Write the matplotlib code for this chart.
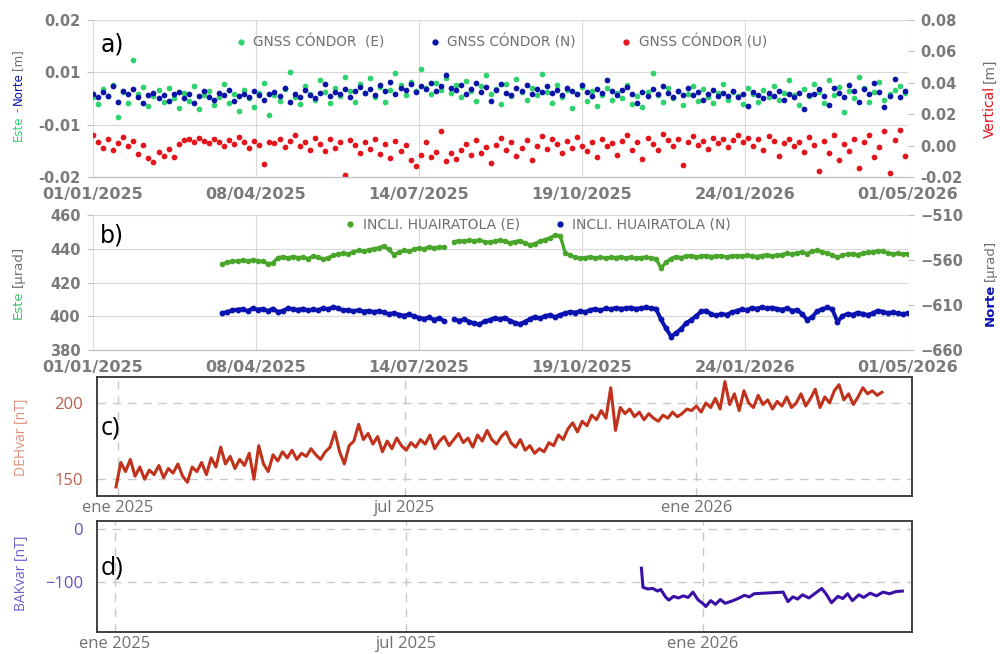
import numpy as np
import pandas as pd
import matplotlib
matplotlib.use('Agg')
import matplotlib.pyplot as plt
import matplotlib.dates as mdates
from matplotlib.lines import Line2D
from matplotlib.ticker import FormatStrFormatter

## Datos
# a) GNSS CONDOR, cada 3 dias desde 01/01/2025, en mm
gnss_e = [0.2, -1.0, 1.8, 0.5, 2.6, -3.5, 1.2, -0.8, 7.4, 0.9, 2.2, -1.5, 0.4, 1.6, -0.6, 2.0, 0.1, -1.9,
          1.0, -0.4, 2.3, -2.0, 0.6, 1.4, -1.2, 0.3, 2.7, -0.9, 0.8, -2.4, 1.7, 0.0, -1.6, 1.1, 2.9, -3.2,
          0.7, -0.5, 1.9, 5.0, 0.2, -1.1, 2.4, 0.9, -0.3, 3.6, 1.2, -0.8, 2.0, 0.4, 4.2, 1.5, -0.6, 2.8,
          1.1, 3.9, 0.3, 2.2, -0.7, 1.6, 4.8, 2.5, 0.6, 3.2, 1.4, 5.6, 2.0, 0.8, 2.9, 1.7, 4.0, 1.0,
          2.6, 0.2, 3.4, 1.5, -0.4, 2.3, 4.5, 0.9, 1.8, -1.0, 2.7, 0.5, 3.8, 1.3, -0.2, 2.1, 0.7, 4.6,
          1.2, -0.9, 2.5, 0.3, 1.7, -1.8, 0.8, 2.2, -0.5, 1.4, -1.4, 0.6, 2.0, -0.3, 1.1, 0.1, 2.6, -1.0,
          0.4, -1.7, 1.3, 4.9, 0.7, -0.6, 2.1, 0.0, 1.5, -1.2, 0.9, 2.4, -0.4, 1.8, 0.3, -0.9, 1.0, 2.7,
          -0.2, 1.2, 0.5, -1.0, 2.0, 0.8, -0.7, 1.6, 0.2, 2.3, -0.3, 1.1, 3.5, 0.6, -1.3, 1.9, 0.4, 2.8,
          1.3, -0.8, 3.6, 0.7, 2.2, -2.5, 1.5, 0.1, 4.2, 2.0, -0.6, 1.2, 3.1, -0.2, 0.9, 1.7, 2.4, 1.0]
gnss_n = [0.8, 0.3, 1.2, 0.5, 2.4, -0.6, 1.5, 0.9, 1.8, 0.2, -0.8, 0.6, 1.1, 0.0, 0.7, -0.4, 0.9, 1.3,
          0.1, 0.8, -0.9, 0.5, 1.4, 0.3, -0.2, 1.0, 0.6, 1.7, -0.5, 0.4, 0.9, 0.2, 1.5, 0.7, -0.3, 0.8,
          1.2, 0.4, 2.0, -0.6, 0.9, 0.3, 1.6, 0.6, 0.1, 1.1, 2.8, 0.5, 1.3, 0.8, 1.9, 0.2, 1.4, 2.2,
          1.0, 1.8, 0.6, 2.5, 1.4, 3.2, 0.9, 2.1, 1.6, 2.7, 1.2, 2.3, 1.8, 3.0, 1.5, 2.4, 4.5, 2.0,
          1.7, 2.6, 0.8, 1.9, 2.9, 1.3, 2.2, -0.5, 1.6, 2.8, 1.1, 0.7, 2.0, 1.4, 2.5, 0.9, 1.8, 1.2,
          2.3, 1.0, 1.7, 0.6, 2.1, 1.5, 0.8, 2.6, 1.2, 0.4, 1.9, 1.0, 3.5, 1.4, 0.7, 1.6, 2.2, 0.9,
          -0.8, 1.3, 0.5, 1.8, 0.9, 2.4, 1.1, 0.3, 1.5, 0.7, 2.0, 0.6, 1.2, -0.2, 0.9, 1.6, 0.4, 1.1,
          0.5, 1.4, 0.2, 0.9, -1.5, 1.2, 0.6, 0.0, 1.0, 0.4, 1.5, -0.3, 0.8, 0.3, 1.1, -2.0, 0.6, 0.9,
          1.8, 0.4, -1.2, 2.1, 1.0, 0.3, 2.6, 1.5, -0.6, 1.9, 0.8, 3.0, 1.2, -1.6, 0.5, 3.8, 0.2, 1.4]
gnss_u = [6.5, 2.0, -1.5, 4.0, -3.0, 1.5, 5.5, -0.5, 3.0, -5.5, 0.5, -8.0, -10.5, -4.0, -6.5, -2.0, -7.5, 1.0,
          3.5, 4.5, 2.0, 5.0, 3.0, 1.5, 4.0, 2.5, -0.5, 3.5, 1.0, 5.5, 2.0, -1.5, 3.0, 0.5, -12.0, 2.5,
          1.5, 4.0, -1.0, 3.0, 6.5, 0.0, 2.5, -2.5, 5.0, 1.0, -3.5, 4.0, -1.5, 2.0, -19.0, 3.5, 0.5, -4.5,
          2.5, -2.0, 4.0, -5.5, 1.0, -8.0, 3.0, -3.5, 0.5, -9.0, -13.0, -6.0, 2.0, -7.0, -4.0, 9.5, -10.0, -5.0,
          -8.5, -2.5, 1.0, -6.0, 3.5, -4.5, -1.0, -11.0, 0.5, 5.0, -3.0, 2.0, -6.5, -1.5, 3.5, -9.0, 0.0, 6.0,
          -2.0, 4.5, 1.0, -5.0, 3.0, -1.5, 5.5, 0.0, -3.5, 2.5, -7.0, 4.0, -0.5, 1.5, -6.0, 3.0, 6.5, -2.5,
          2.0, -8.5, 5.0, 1.0, -3.0, 7.5, 3.5, -0.5, 4.5, -12.5, 2.0, 6.0, 0.5, 3.0, -2.0, 5.0, 1.5, 4.0,
          -1.0, 3.5, 7.0, 2.0, 5.0, 0.0, 4.0, -2.5, 6.0, 3.0, -6.5, 1.5, 4.5, -0.5, 2.5, -4.0, 5.5, 0.5,
          -16.0, 3.0, -5.0, 6.5, -9.0, 1.0, -3.5, 4.5, -14.0, 2.0, 7.0, -7.5, -1.0, 9.5, -17.5, 3.5, 10.0, -6.5]
a_left_ticks = [-0.015, -0.005, 0.005, 0.015]
a_left_labels = ['-0.02', '-0.01', '0.01', '0.02']

# b) Inclinometro HUAIRATOLA, cada 3 dias desde 19/03/2025, en urad
incl_e = [431.0, 432.0, 432.5, 432.8, 433.2, 432.6, 433.4, 433.0, 432.5, 431.2,
          431.5, 434.8, 435.2, 434.6, 435.4, 434.8, 435.0, 434.2, 435.6, 435.0,
          434.0, 434.6, 436.2, 436.8, 437.4, 437.0, 438.2, 439.0, 438.6, 439.4,
          440.0, 440.6, 441.6, 439.6, 436.6, 437.8, 439.0, 438.6, 439.6, 440.4,
          440.0, 441.0, 440.6, 440.8, 441.0, np.nan, 444.2, 444.8, 444.4, 445.0,
          444.6, 445.2, 444.2, 443.8, 444.6, 445.0, 444.4, 443.6, 444.2, 444.8,
          443.4, 442.4, 443.0, 444.6, 445.4, 446.4, 448.2, 447.8, 437.6, 436.2,
          435.0, 434.4, 434.8, 435.2, 434.6, 435.0, 434.4, 435.0, 434.8, 435.2,
          434.6, 435.0, 434.4, 434.8, 435.0, 434.6, 434.2, 428.6, 432.0, 434.2,
          435.4, 434.8, 435.6, 436.0, 435.2, 435.6, 436.0, 435.4, 435.8, 435.6,
          435.2, 435.8, 436.0, 435.6, 436.2, 435.8, 435.4, 436.0, 436.4, 435.8,
          436.2, 436.6, 437.4, 436.8, 437.6, 438.0, 437.2, 438.6, 439.0, 438.2,
          437.4, 436.4, 435.0, 436.2, 436.8, 437.2, 436.6, 437.4, 437.8, 438.0,
          438.8, 438.4, 437.6, 437.0, 437.4, 436.8, 437.2]
incl_n = [-619.0, -617.5, -616.0, -615.0, -614.5, -616.5, -613.8, -615.0, -614.2, -616.6,
          -614.0, -617.6, -616.4, -613.6, -614.6, -615.2, -614.0, -616.0, -614.8, -615.6,
          -613.4, -614.6, -612.2, -613.8, -616.0, -615.4, -616.8, -615.6, -617.2, -616.4,
          -617.6, -616.8, -618.2, -620.0, -619.0, -620.6, -621.8, -620.4, -622.6, -624.0,
          -625.2, -623.8, -626.4, -624.6, -627.8, np.nan, -626.0, -627.4, -625.8, -628.6,
          -630.4, -631.6, -628.0, -626.6, -624.4, -625.8, -624.0, -627.2, -629.6, -631.2,
          -628.6, -625.4, -623.0, -624.8, -622.2, -621.0, -623.6, -620.8, -619.2, -617.6,
          -618.4, -616.6, -617.8, -615.4, -614.2, -616.0, -613.8, -614.6, -613.2, -614.0,
          -613.6, -612.8, -614.2, -613.4, -612.6, -613.8, -614.0, -626.0, -636.0, -645.0,
          -641.0, -636.4, -630.0, -626.4, -622.0, -617.0, -616.2, -620.4, -621.6, -619.8,
          -620.8, -618.2, -616.4, -614.8, -615.6, -613.2, -614.0, -612.4, -613.6, -612.8,
          -614.2, -615.0, -613.6, -616.2, -615.4, -620.0, -626.4, -623.0, -616.8, -614.6,
          -612.6, -614.8, -628.6, -622.4, -619.6, -620.8, -618.4, -619.6, -621.0, -619.2,
          -616.2, -617.4, -619.0, -618.2, -619.4, -620.0, -619.0]

ab_tick_dates = ['2025-01-01', '2025-04-08', '2025-07-14', '2025-10-19', '2026-01-24', '2026-05-01']

# c) DEHvar, cada 3 dias desde 31/12/2024, en nT
deh_var = [145, 161, 155, 163, 152, 158, 150, 156, 153, 159, 151, 157, 154, 160, 152, 148, 158, 155,
           161, 153, 164, 158, 171, 160, 165, 157, 163, 159, 167, 150, 172, 160, 155, 166, 162, 168,
           164, 169, 163, 167, 165, 170, 166, 163, 168, 171, 181, 168, 160, 172, 175, 186, 176, 180,
           173, 178, 168, 175, 170, 177, 172, 169, 174, 171, 176, 173, 179, 170, 175, 178, 172, 176,
           180, 174, 177, 171, 179, 175, 182, 176, 173, 178, 181, 174, 171, 176, 169, 172, 167, 170,
           168, 174, 172, 179, 176, 183, 187, 181, 188, 185, 192, 189, 195, 190, 210, 182, 197, 193,
           196, 191, 194, 189, 193, 190, 188, 192, 190, 194, 191, 193, 196, 195, 198, 194, 200, 197,
           203, 196, 214, 199, 206, 195, 208, 200, 197, 205, 199, 202, 196, 201, 198, 204, 197, 200,
           206, 198, 203, 209, 197, 204, 200, 208, 212, 202, 206, 199, 204, 210, 206, 208, 205, 207]

# d) BAKvar, en nT
bak_dates = ['2025-11-24', '2025-11-25', '2025-11-28', '2025-12-01', '2025-12-04', '2025-12-06',
             '2025-12-09', '2025-12-11', '2025-12-14', '2025-12-17', '2025-12-20', '2025-12-23',
             '2025-12-26', '2025-12-29', '2026-01-01', '2026-01-03', '2026-01-06', '2026-01-09',
             '2026-01-12', '2026-01-15', '2026-01-19', '2026-01-23', '2026-01-27', '2026-01-30',
             '2026-02-02', '2026-02-20', '2026-02-23', '2026-02-26', '2026-03-01', '2026-03-04',
             '2026-03-08', '2026-03-12', '2026-03-16', '2026-03-19', '2026-03-22', '2026-03-26',
             '2026-03-29', '2026-04-01', '2026-04-04', '2026-04-08', '2026-04-11', '2026-04-15',
             '2026-04-19', '2026-04-23', '2026-04-27', '2026-05-01', '2026-05-05']
bak_var = [-74, -110, -113, -112, -117, -114, -128, -134, -127, -130, -126, -129,
           -119, -133, -140, -146, -135, -142, -133, -140, -136, -131, -125, -128,
           -122, -119, -137, -128, -132, -124, -130, -121, -112, -124, -139, -127,
           -131, -122, -135, -124, -129, -121, -126, -119, -122, -118, -117]

cd_tick_dates = ['2025-01-01', '2025-07-01', '2026-01-01']
cd_tick_labels = ['ene 2025', 'jul 2025', 'ene 2026']
#############################

GRAY = '#6e6e6e'
fig = plt.figure(figsize=(10, 6.54), dpi=100)


def stacked_label(x, yc, parts, size, gap=0.004):
    # etiqueta vertical multicolor: parts = (texto, color, peso)
    rend = fig.canvas.get_renderer()
    items = []
    for s, c, w in parts:
        t = fig.text(x, 0, s, color=c, fontsize=size, fontweight=w, rotation=90,
                     ha='center', va='bottom')
        h = t.get_window_extent(rend).height / fig.bbox.height
        items.append((t, h))
    total = sum(h for _, h in items) + gap * (len(items) - 1)
    y = yc - total / 2
    for t, h in items:
        t.set_y(y)
        y += h + gap


def style_ab(ax, ax2):
    ax.grid(True, color='#d9d9d9', lw=0.8)
    ax.set_axisbelow(True)
    for a in (ax, ax2):
        for sp in ('top', 'left', 'right'):
            a.spines[sp].set_visible(False)
        a.spines['bottom'].set_color('#bfbfbf')
        a.tick_params(axis='y', length=4, color='#bfbfbf', labelcolor='#7a7a7a', labelsize=10.5, pad=5)
        for t in a.get_yticklabels():
            t.set_fontweight('bold')
    ax.tick_params(axis='x', length=0, labelcolor='#7a7a7a', labelsize=11.5, pad=7)
    ax.set_xlim(pd.Timestamp('2025-01-01'), pd.Timestamp('2026-05-01'))
    ax.set_xticks(pd.to_datetime(ab_tick_dates))
    ax.xaxis.set_major_formatter(mdates.DateFormatter('%d/%m/%Y'))
    for t in ax.get_xticklabels():
        t.set_fontweight('bold')


## a) GNSS
axa = fig.add_axes([0.093, 0.7294, 0.815, 0.2400])
axa2 = axa.twinx()
dates_a = pd.date_range('2025-01-01', periods=len(gnss_e), freq='3D')
c_e, c_n, c_u = '#2fd36e', '#0c14a8', '#e3141b'
axa.scatter(dates_a, np.array(gnss_e) / 1000, s=17, color=c_e, lw=0)
axa.scatter(dates_a, np.array(gnss_n) / 1000, s=17, color=c_n, lw=0)
axa2.scatter(dates_a, np.array(gnss_u) / 1000, s=17, color=c_u, lw=0)
axa.set_ylim(-0.015, 0.015)
axa.set_yticks(a_left_ticks)
axa.set_yticklabels(a_left_labels)
axa2.set_ylim(-0.02, 0.08)
axa2.set_yticks(np.arange(-0.02, 0.081, 0.02))
axa2.yaxis.set_major_formatter(FormatStrFormatter('%.2f'))
style_ab(axa, axa2)
h = [Line2D([], [], ls='', marker='o', ms=3.5, color=c) for c in (c_e, c_n, c_u)]
axa2.legend(h, ['GNSS CÓNDOR  (E)', 'GNSS CÓNDOR (N)', 'GNSS CÓNDOR (U)'], ncol=3,
            loc='center', bbox_to_anchor=(0.50, 0.86), frameon=False, fontsize=9.8,
            labelcolor=GRAY, handletextpad=0.4, columnspacing=3.2, handlelength=1)
axa.text(0.009, 0.80, 'a)', transform=axa.transAxes, fontsize=17)

## b) Inclinometro
axb = fig.add_axes([0.093, 0.4648, 0.815, 0.2064])
axb2 = axb.twinx()
dates_b = pd.date_range('2025-03-19', periods=len(incl_e), freq='3D')
c_be, c_bn = '#4aa62a', '#0a12b0'
axb.plot(dates_b, incl_e, '-o', color=c_be, ms=3, lw=2.4)
axb2.plot(dates_b, incl_n, '-o', color=c_bn, ms=3.2, lw=2.8)
axb.set_ylim(380, 460)
axb.set_yticks(np.arange(380, 461, 20))
axb2.set_ylim(-660, -510)
axb2.set_yticks(np.arange(-660, -509, 50))
style_ab(axb, axb2)
h = [Line2D([], [], ls='', marker='o', ms=3.5, color=c) for c in (c_be, c_bn)]
axb2.legend(h, ['INCLI. HUAIRATOLA (E)', 'INCLI. HUAIRATOLA (N)'], ncol=2,
            loc='center', bbox_to_anchor=(0.545, 0.93), frameon=False, fontsize=10,
            labelcolor=GRAY, handletextpad=0.4, columnspacing=2.4, handlelength=1)
axb.text(0.009, 0.80, 'b)', transform=axb.transAxes, fontsize=17)

## c) DEHvar
cd_font = 'Open Sans'
axc = fig.add_axes([0.097, 0.2416, 0.815, 0.1819])
dates_c = pd.date_range('2024-12-31', periods=len(deh_var), freq='3D')
axc.plot(dates_c, deh_var, color='#c0321b', lw=2.2)
axc.set_ylim(139, 217)
axc.set_yticks([150, 200])
axc.set_xlim(pd.Timestamp('2024-12-19'), pd.Timestamp('2026-05-17'))

## d) BAKvar
axd = fig.add_axes([0.097, 0.0336, 0.815, 0.1700])
axd.plot(pd.to_datetime(bak_dates), bak_var, color='#3a0fa8', lw=2.2)
axd.set_ylim(-194, 15)
axd.set_yticks([-100, 0])
axd.set_xlim(pd.Timestamp('2024-12-21'), pd.Timestamp('2026-05-11'))

for ax, ycol, lab in ((axc, '#b8604c', 'c)'), (axd, '#6a52bb', 'd)')):
    ax.grid(True, ls=(0, (6, 5)), color='#c8c8c8', lw=1)
    for sp in ax.spines.values():
        sp.set_color('#404040')
        sp.set_linewidth(1.4)
    ax.set_xticks(pd.to_datetime(cd_tick_dates))
    ax.set_xticklabels(cd_tick_labels, fontfamily=cd_font)
    ax.tick_params(length=0, labelsize=12, pad=3)
    ax.tick_params(axis='x', labelcolor='#707070')
    ax.tick_params(axis='y', labelcolor=ycol, pad=10)
    for t in ax.get_yticklabels():
        t.set_fontfamily(cd_font)
    ax.text(0.005, 0.52, lab, transform=ax.transAxes, fontsize=18, fontfamily=cd_font)

## Etiquetas de ejes
stacked_label(0.018, 0.855, [('Este', c_e, 'normal'), ('-', GRAY, 'normal'),
                             ('Norte', c_n, 'normal'), ('[m]', GRAY, 'normal')], 8.5)
stacked_label(0.990, 0.850, [('Vertical', '#e3141b', 'normal'), ('[m]', GRAY, 'normal')], 10)
stacked_label(0.018, 0.568, [('Este', '#3cc06a', 'normal'), ('[µrad]', GRAY, 'normal')], 9.5)
stacked_label(0.990, 0.568, [('Norte', c_bn, 'bold'), ('[µrad]', GRAY, 'normal')], 9.5)
fig.text(0.022, 0.332, 'DEHvar [nT]', rotation=90, ha='center', va='center',
         color='#e0907c', fontsize=10, fontfamily=cd_font)
fig.text(0.022, 0.124, 'BAKvar [nT]', rotation=90, ha='center', va='center',
         color='#6e5ccc', fontsize=10, fontfamily=cd_font)

fig.savefig('out.png', dpi=100)
